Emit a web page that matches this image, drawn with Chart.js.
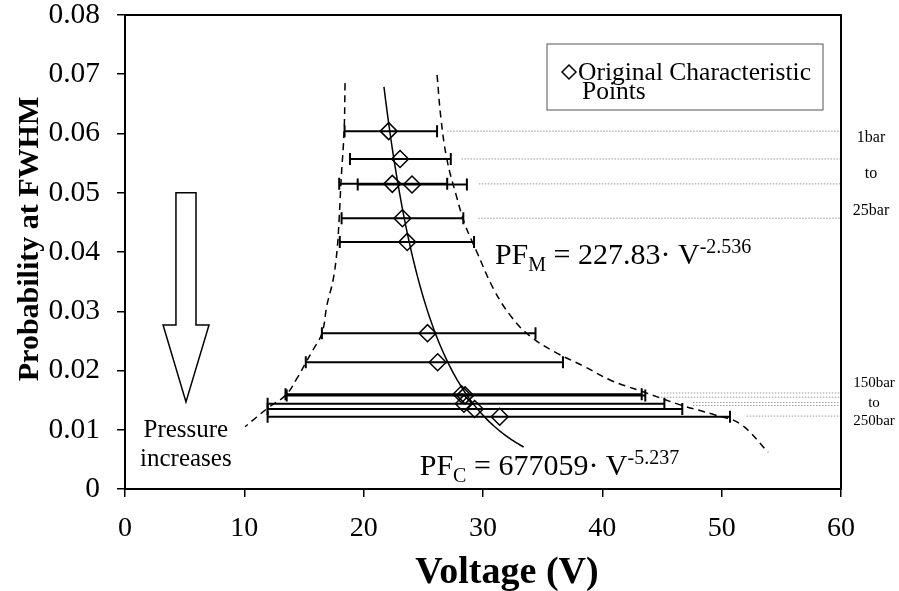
<!DOCTYPE html>
<html>
<head>
<meta charset="utf-8">
<script src="https://cdn.jsdelivr.net/npm/chart.js@4.4.1/dist/chart.umd.min.js"></script>
<style>
  html, body { margin: 0; padding: 0; background: #fff; }
</style>
</head>
<body>
<canvas id="myChart" width="899" height="591"></canvas>
<script>
const SERIF = "'Liberation Serif', 'Times New Roman', serif";

// characteristic points and their FWHM voltage spread
const voltage = [22.1, 23.05, 22.4, 24.05, 23.25, 23.65, 25.35, 26.2, 28.2, 28.5, 28.4, 29.3, 31.4];
const probability = [0.0604, 0.0557, 0.0515, 0.0514, 0.0457, 0.0417, 0.0263, 0.0214, 0.0160, 0.0158, 0.0144, 0.0135, 0.0122];
const voltageLow = [18.4, 18.85, 17.95, 19.5, 18.15, 18.0, 16.5, 15.15, 13.45, 13.55, 11.95, 11.95, 11.95];
const voltageHigh = [26.15, 27.3, 27.0, 28.65, 28.35, 29.25, 34.4, 36.7, 43.3, 43.6, 45.2, 46.7, 50.7];

// power-law fits: [coefficient, exponent]
const fitC = [677059, -5.237];
const fitM = [227.83, -2.536];
const fitCRange = [21.7, 33.4];

// dashed envelopes drawn by hand through the bar ends
const leftEnvV = [18.44, 18.36, 18.11, 17.94, 17.77, 17.44, 16.93, 16.51, 15.76, 15.17, 14.42, 13.5, 11.99, 10.06];
const leftEnvP = [0.0685, 0.0604, 0.0522, 0.0454, 0.0403, 0.0353, 0.0311, 0.0263, 0.0235, 0.0214, 0.0187, 0.0159, 0.0137, 0.0105];
const rightEnvV = [26.15, 26.49, 26.99, 27.75, 28.5, 29.42, 30.93, 32.44, 33.95, 36.04, 38.56, 40.65, 43.42, 46.53, 49.45, 51.55, 53.9];
const rightEnvP = [0.0699, 0.0623, 0.0555, 0.0496, 0.0446, 0.0403, 0.0336, 0.0289, 0.0258, 0.0231, 0.0206, 0.0184, 0.0164, 0.0142, 0.0125, 0.0110, 0.0062];

// dotted guides running out to the pressure labels
const guideP = [0.0604, 0.0557, 0.0515, 0.0457, 0.0162, 0.0155, 0.0146, 0.0141, 0.0123];
const guideStart = [27.0, 28.2, 29.65, 29.6, 44.9, 44.9, 47.6, 47.6, 52.1];

const xTicks = [0, 10, 20, 30, 40, 50, 60];
const yTicks = [0, 0.01, 0.02, 0.03, 0.04, 0.05, 0.06, 0.07, 0.08];

const toXY = (xs, ys) => xs.map((x, i) => ({ x: x, y: ys[i] }));

const fitPoints = [];
for (let i = 0; i <= 80; i++) {
  const v = fitCRange[0] + (fitCRange[1] - fitCRange[0]) * i / 80;
  fitPoints.push({ x: v, y: fitC[0] * Math.pow(v, fitC[1]) });
}

const guideSets = guideP.map((p, i) => ({
  type: "line",
  data: [{ x: guideStart[i], y: p }, { x: 60, y: p }],
  borderColor: "#9a9a9a",
  borderWidth: 1,
  borderDash: [1.5, 1.5],
  pointRadius: 0,
}));

// rich text: parts of [text, size, baseline shift]
function drawParts(ctx, x, y, parts) {
  parts.forEach(([t, size, dy]) => {
    ctx.font = size + "px " + SERIF;
    ctx.fillText(t, x, y + dy);
    x += ctx.measureText(t).width;
  });
}

const extras = {
  id: "extras",
  beforeDatasetsDraw(chart) {
    const { ctx, scales: { x, y } } = chart;
    ctx.save();
    ctx.strokeStyle = "#000";
    ctx.lineWidth = 2;
    voltage.forEach((v, i) => {
      const py = y.getPixelForValue(probability[i]);
      const x0 = x.getPixelForValue(voltageLow[i]);
      const x1 = x.getPixelForValue(voltageHigh[i]);
      ctx.beginPath();
      ctx.moveTo(x0, py); ctx.lineTo(x1, py);
      ctx.moveTo(x0, py - 6); ctx.lineTo(x0, py + 6);
      ctx.moveTo(x1, py - 6); ctx.lineTo(x1, py + 6);
      ctx.stroke();
    });
    ctx.restore();
  },
  afterDraw(chart) {
    const { ctx, chartArea: a, scales: { x, y } } = chart;
    ctx.save();
    ctx.strokeStyle = "#000";
    ctx.lineWidth = 2;
    ctx.strokeRect(a.left, a.top, a.right - a.left, a.bottom - a.top);

    // legend box
    ctx.lineWidth = 1;
    ctx.strokeStyle = "#555";
    ctx.strokeRect(a.right - 294, a.top + 29, 276, 66);
    ctx.strokeStyle = "#000";
    ctx.lineWidth = 1.5;
    const lx = a.right - 272, ly = a.top + 57;
    ctx.beginPath();
    ctx.moveTo(lx - 7, ly); ctx.lineTo(lx, ly - 7); ctx.lineTo(lx + 7, ly); ctx.lineTo(lx, ly + 7);
    ctx.closePath(); ctx.stroke();
    ctx.fillStyle = "#000";
    ctx.textAlign = "left";
    ctx.textBaseline = "alphabetic";
    ctx.font = "25.5px " + SERIF;
    ctx.fillText("Original Characteristic", lx + 9, ly + 8);
    ctx.fillText("Points", lx + 13, ly + 27);

    // pressure arrow
    const X = v => x.getPixelForValue(v), Y = p => y.getPixelForValue(p);
    ctx.lineWidth = 1.5;
    ctx.beginPath();
    ctx.moveTo(X(4.27), Y(0.05)); ctx.lineTo(X(5.95), Y(0.05));
    ctx.lineTo(X(5.95), Y(0.0277)); ctx.lineTo(X(7.04), Y(0.0277));
    ctx.lineTo(X(5.11), Y(0.0147)); ctx.lineTo(X(3.19), Y(0.0277));
    ctx.lineTo(X(4.27), Y(0.0277)); ctx.closePath();
    ctx.stroke();
    ctx.textAlign = "center";
    ctx.font = "25px " + SERIF;
    ctx.fillText("Pressure", X(5.1), Y(0.0088));
    ctx.fillText("increases", X(5.1), Y(0.0038));

    // fit equations
    ctx.textAlign = "left";
    drawParts(ctx, X(31.0), Y(0.0379), [["PF", 30, 0], ["M", 20, 7], [" = " + fitM[0] + "\u00b7 V", 30, 0], [String(fitM[1]), 20, -11]]);
    drawParts(ctx, X(24.7), Y(0.0024), [["PF", 30, 0], ["C", 20, 7], [" = " + fitC[0] + "\u00b7 V", 30, 0], [String(fitC[1]), 20, -11]]);

    // pressure range labels beside the plot
    ctx.textAlign = "center";
    ctx.textBaseline = "middle";
    const rx = a.right + 30;
    ctx.font = "16px " + SERIF;
    ctx.fillText("1bar", rx, Y(0.0592));
    ctx.fillText("to", rx, Y(0.0532));
    ctx.fillText("25bar", rx, Y(0.0469));
    ctx.font = "15px " + SERIF;
    ctx.fillText("150bar", rx + 3, Y(0.0179));
    ctx.fillText("to", rx + 3, Y(0.0145));
    ctx.fillText("250bar", rx + 3, Y(0.0115));

    // axis titles
    ctx.font = "bold 38px " + SERIF;
    ctx.fillText("Voltage (V)", (a.left + a.right) / 2 + 24, a.bottom + 84);
    ctx.font = "bold 30px " + SERIF;
    ctx.translate(30, (a.top + a.bottom) / 2 - 13);
    ctx.rotate(-Math.PI / 2);
    ctx.fillText("Probability at FWHM", 0, 0);
    ctx.restore();
  },
};

const ctx = document.getElementById("myChart");
new Chart(ctx, {
  type: "scatter",
  data: {
    datasets: [
      {
        label: "Original Characteristic Points",
        data: toXY(voltage, probability),
        pointStyle: "rectRot",
        pointRadius: 8.5,
        borderColor: "#000",
        backgroundColor: "rgba(0,0,0,0)",
        borderWidth: 1.5,
      },
      {
        type: "line",
        data: fitPoints,
        borderColor: "#000",
        borderWidth: 1.5,
        pointRadius: 0,
      },
      {
        type: "line",
        data: toXY(leftEnvV, leftEnvP),
        borderColor: "#000",
        borderWidth: 1.5,
        borderDash: [7, 5],
        pointRadius: 0,
        tension: 0.4,
      },
      {
        type: "line",
        data: toXY(rightEnvV, rightEnvP),
        borderColor: "#000",
        borderWidth: 1.5,
        borderDash: [7, 5],
        pointRadius: 0,
        tension: 0.4,
      },
      ...guideSets,
    ],
  },
  options: {
    responsive: false,
    animation: false,
    events: [],
    layout: { padding: { top: 15, right: 58, left: 0, bottom: 0 } },
    plugins: { legend: { display: false }, tooltip: { enabled: false } },
    scales: {
      x: {
        type: "linear",
        min: 0,
        max: 60,
        afterBuildTicks: s => { s.ticks = xTicks.map(v => ({ value: v })); },
        ticks: { color: "#000", font: { family: SERIF, size: 28 }, padding: 15, maxRotation: 0 },
        grid: { drawOnChartArea: false, tickLength: 8, color: "#000", lineWidth: 1.5 },
        border: { color: "#000", width: 2 },
        afterFit: s => { s.height = 102; },
      },
      y: {
        type: "linear",
        min: 0,
        max: 0.08,
        afterBuildTicks: s => { s.ticks = yTicks.map(v => ({ value: v })); },
        ticks: {
          color: "#000",
          font: { family: SERIF, size: 29.5, lineHeight: 0.1 },
          padding: 17,
          callback: v => (v === 0 ? "0" : v.toFixed(2)),
        },
        grid: { drawOnChartArea: false, tickLength: 8, color: "#000", lineWidth: 1.5 },
        border: { color: "#000", width: 2 },
        afterFit: s => { s.width = 125; s.paddingTop = 0; s.paddingBottom = 0; },
      },
    },
  },
  plugins: [extras],
});
</script>
</body>
</html>
